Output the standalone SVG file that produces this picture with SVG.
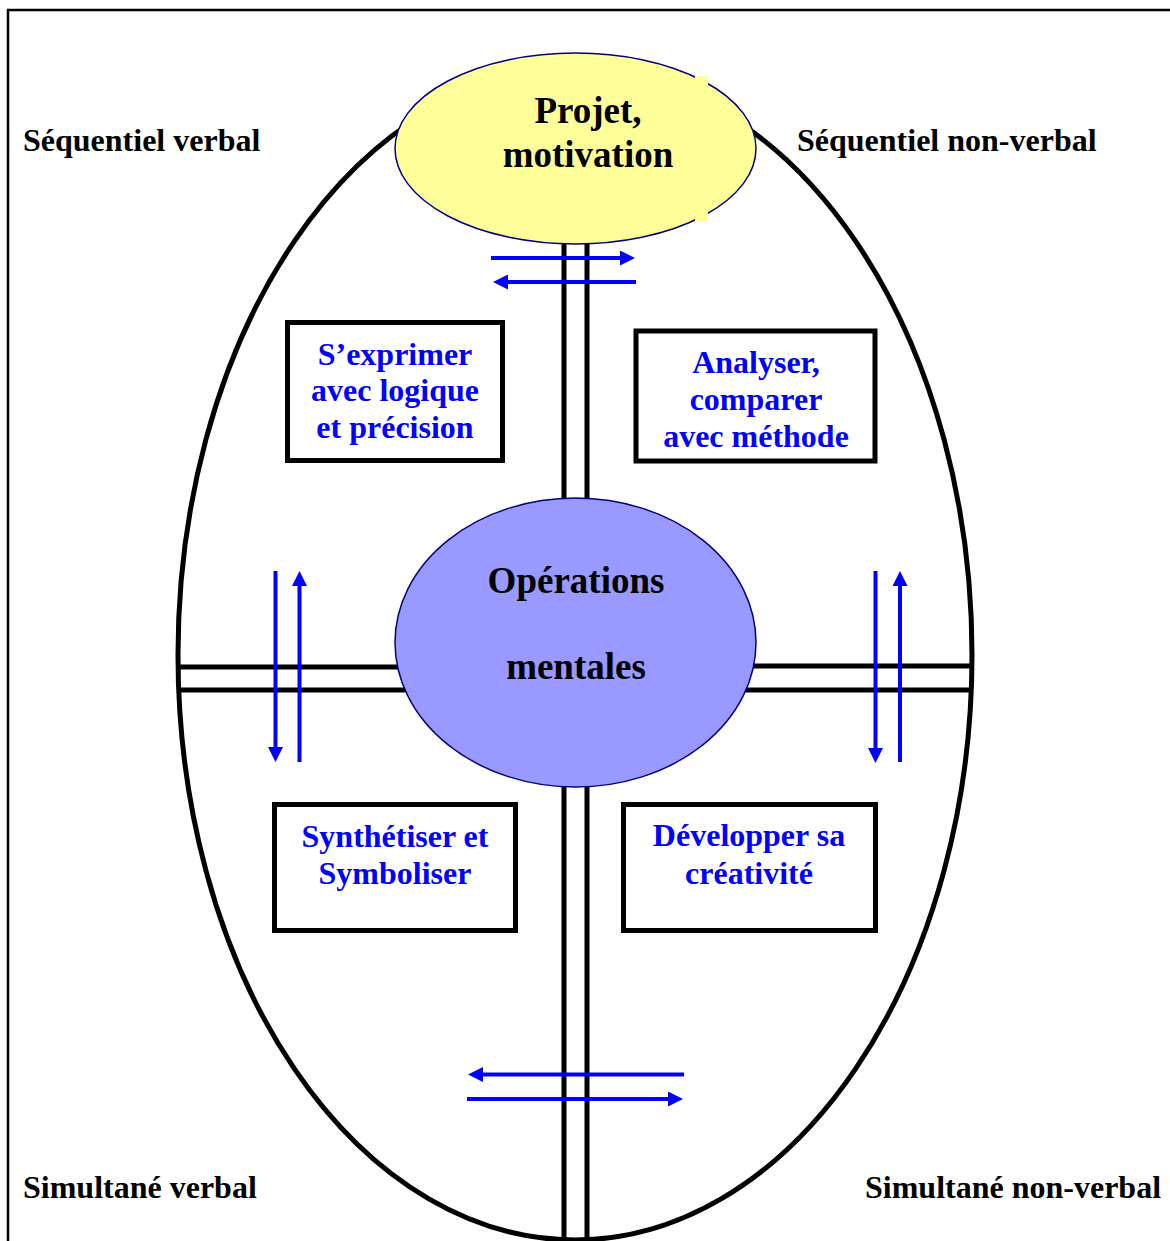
<svg xmlns="http://www.w3.org/2000/svg" width="1170" height="1241" viewBox="0 0 1170 1241">
<style>
.lbl{font-family:"Liberation Serif","Times New Roman",serif;font-weight:bold;font-size:32px;fill:#000}
.big{font-family:"Liberation Serif","Times New Roman",serif;font-weight:bold;font-size:37px;fill:#000;text-anchor:middle}
.btx{font-family:"Liberation Serif","Times New Roman",serif;font-weight:bold;font-size:32px;fill:#0000FF;text-anchor:middle}
.bar{stroke:#000;stroke-width:5;fill:none}
.box{fill:#fff;stroke:#000;stroke-width:5}
.arr{stroke:#0000FF;stroke-width:4;fill:none;marker-end:url(#ah)}
</style>
<defs>
<marker id="ah" markerUnits="userSpaceOnUse" viewBox="0 0 15 15" markerWidth="15" markerHeight="15" refX="5" refY="7.5" orient="auto">
<path d="M0,0 L15,7.5 L0,15 Z" fill="#0000FF"/>
</marker>
</defs>
<rect width="1170" height="1241" fill="#fff"/>
<g id="frame">
<path d="M8,1241 V10 H1170" stroke="#000" stroke-width="2.5" fill="none"/>
</g>
<g id="outer-ellipse">
<ellipse cx="575" cy="655" rx="397" ry="585" fill="none" stroke="#000" stroke-width="5"/>
</g>
<g id="connectors">
<line class="bar" x1="564" y1="230" x2="564" y2="510"/>
<line class="bar" x1="587" y1="230" x2="587" y2="510"/>
<line class="bar" x1="564" y1="770" x2="564" y2="1241"/>
<line class="bar" x1="587" y1="770" x2="587" y2="1241"/>
<line class="bar" x1="180" y1="667" x2="420" y2="667"/>
<line class="bar" x1="180" y1="690" x2="420" y2="690"/>
<line class="bar" x1="730" y1="666" x2="971" y2="666"/>
<line class="bar" x1="730" y1="690" x2="971" y2="690"/>
<line class="arr" x1="491" y1="258" x2="625" y2="258"/>
<line class="arr" x1="636" y1="282" x2="503" y2="282"/>
<line class="arr" x1="275.5" y1="571" x2="275.5" y2="752"/>
<line class="arr" x1="299.5" y1="762" x2="299.5" y2="581"/>
<line class="arr" x1="875.5" y1="571" x2="875.5" y2="753"/>
<line class="arr" x1="900" y1="762" x2="900" y2="581"/>
<line class="arr" x1="684" y1="1074.5" x2="478" y2="1074.5"/>
<line class="arr" x1="467" y1="1099" x2="673" y2="1099"/>
</g>
<g id="node-projet">
<ellipse cx="575.5" cy="148.5" rx="180.5" ry="95.5" fill="#FFFF99" stroke="#000080" stroke-width="1.5"/>
<rect x="695" y="76" width="13" height="9" fill="#FFFF99"/>
<rect x="695" y="212" width="13" height="10" fill="#FFFF99"/>
<text class="big" x="588" y="123">Projet,</text>
<text class="big" x="588" y="167">motivation</text>
</g>
<g id="node-operations">
<ellipse cx="575.5" cy="642.5" rx="180.5" ry="144.5" fill="#9999FF" stroke="#000080" stroke-width="1.5"/>
<text class="big" x="576" y="593">Opérations</text>
<text class="big" x="576" y="679">mentales</text>
</g>
<g id="node-exprimer">
<rect class="box" x="287.5" y="322.5" width="215" height="138"/>
<text class="btx" x="395" y="365">S’exprimer</text>
<text class="btx" x="395" y="401">avec logique</text>
<text class="btx" x="395" y="438">et précision</text>
</g>
<g id="node-analyser">
<rect class="box" x="636" y="331" width="239" height="130"/>
<text class="btx" x="756" y="373">Analyser,</text>
<text class="btx" x="756" y="410">comparer</text>
<text class="btx" x="756" y="447">avec méthode</text>
</g>
<g id="node-synthetiser">
<rect class="box" x="274.5" y="804.5" width="241" height="126"/>
<text class="btx" x="395" y="847">Synthétiser et</text>
<text class="btx" x="395" y="884">Symboliser</text>
</g>
<g id="node-developper">
<rect class="box" x="623.5" y="804.5" width="252" height="126"/>
<text class="btx" x="749" y="846">Développer sa</text>
<text class="btx" x="749" y="884">créativité</text>
</g>
<g id="corner-labels">
<text class="lbl" x="23" y="151">Séquentiel verbal</text>
<text class="lbl" x="797" y="151">Séquentiel non-verbal</text>
<text class="lbl" x="23" y="1198">Simultané verbal</text>
<text class="lbl" x="865" y="1198">Simultané non-verbal</text>
</g>
</svg>
